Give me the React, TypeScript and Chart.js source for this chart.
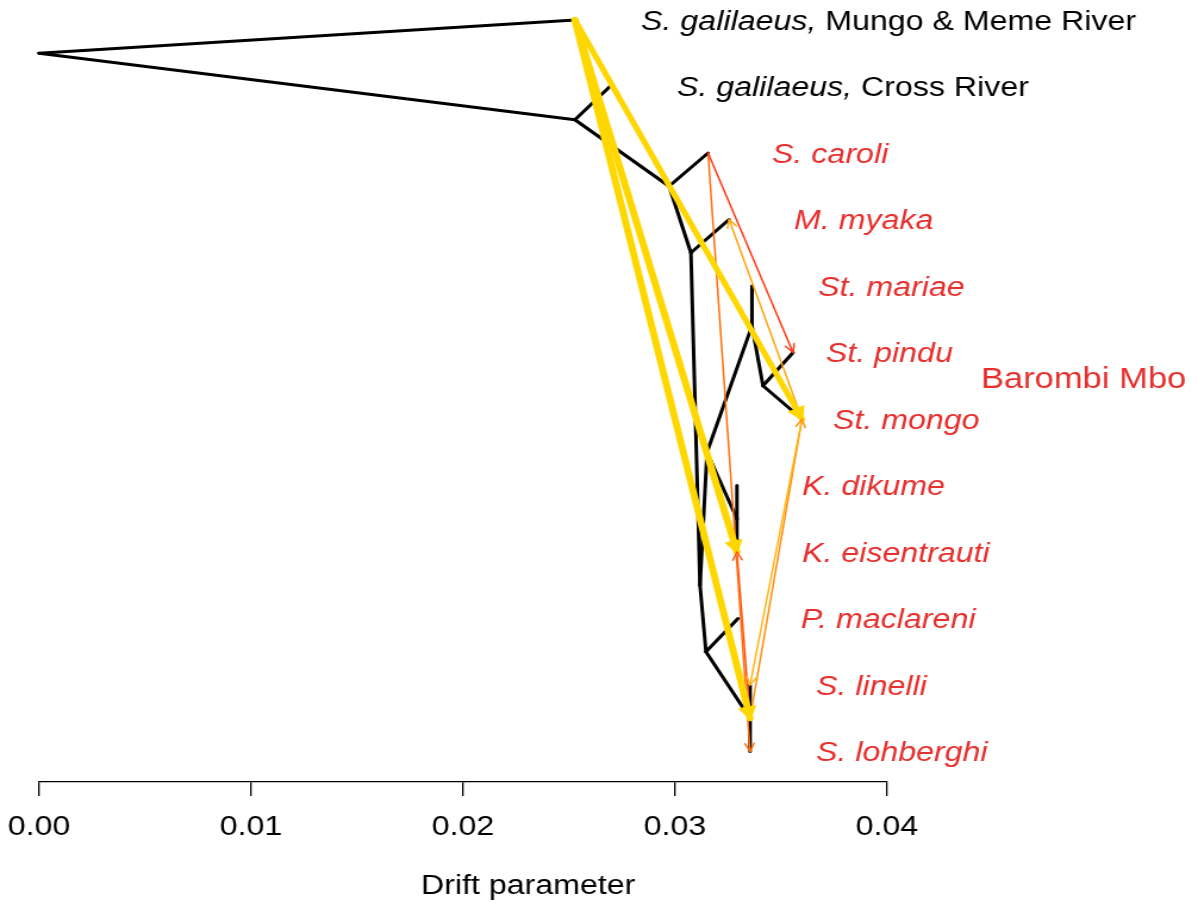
import React, { useEffect, useRef } from "react";
import { Chart, registerables } from "chart.js";

Chart.register(...registerables);

// ---------------- data ----------------
const nodeNames = [
  "root", "galMungo", "B", "galCross", "C", "caroli", "D", "myaka", "M", "I", "G",
  "mariae", "H", "pindu", "mongo", "K", "dikume", "eisentrauti", "J", "maclareni",
  "N", "linelli", "lohberghi",
];
// drift parameter (x) of every node
const nodeDrift = [
  0, 0.02528, 0.02528, 0.02693, 0.02972, 0.03156, 0.03075, 0.03255, 0.03118, 0.03151, 0.03363,
  0.03363, 0.03415, 0.03557, 0.03599, 0.03292, 0.03292, 0.03292, 0.03146, 0.03297,
  0.03354, 0.03354, 0.03354,
];
// vertical order (tip index) of every node
const nodeOrder = [
  0.5, 0, 1.5, 1, 2.5, 2, 3.5, 3, 8.5, 6.5, 4.6,
  4, 5.5, 5, 6, 7.5, 7, 8, 9.5, 9,
  10.5, 10, 11,
];

const treeParents = ["root", "root", "B", "B", "C", "C", "D", "D", "M", "I", "G", "G", "H", "H", "I", "K", "K", "M", "J", "J", "N", "N"];
const treeChildren = ["galMungo", "B", "galCross", "C", "caroli", "D", "myaka", "M", "I", "G", "mariae", "H", "pindu", "mongo", "K", "dikume", "eisentrauti", "J", "maclareni", "N", "linelli", "lohberghi"];

const migFrom = ["galMungo", "galMungo", "galMungo", "caroli", "caroli", "mongo", "mongo", "N", "N"];
const migTo = ["mongo", "eisentrauti", "N", "pindu", "lohberghi", "myaka", "linelli", "mongo", "eisentrauti"];

const tipNodes = ["galMungo", "galCross", "caroli", "myaka", "mariae", "pindu", "mongo", "dikume", "eisentrauti", "maclareni", "linelli", "lohberghi"];
const tipItalic = ["S. galilaeus,", "S. galilaeus,", "S. caroli", "M. myaka", "St. mariae", "St. pindu", "St. mongo", "K. dikume", "K. eisentrauti", "P. maclareni", "S. linelli", "S. lohberghi"];
const tipPlain = [" Mungo & Meme River", " Cross River", "", "", "", "", "", "", "", "", "", ""];
const tipIsLake = [false, false, true, true, true, true, true, true, true, true, true, true];

const groupLabel = "Barombi Mbo";
const axisTicks = [0, 0.01, 0.02, 0.03, 0.04];
const axisTitle = "Drift parameter";

// ---------------- styles ----------------
const CANVAS_W = 1006;
const CANVAS_H = 903;
const STRETCH = 1198 / CANVAS_W;
const FONT = "'Liberation Sans', Arial, Helvetica, sans-serif";
const RED = "#E5302E";
const migColors = ["#FFD700", "#FFD700", "#FFD700", "#FF3A12", "#FF6E0A", "#FFA510", "#FFB30F", "#FF8C0A", "#FF5218"];
const migWidths = [5.2, 6, 6, 1.5, 1.5, 1.5, 1.5, 1.5, 1.5];
const labelGap = [0.00312, 0.00316, 0.00302, 0.00306, 0.00312, 0.00155, 0.00146, 0.00307, 0.00307, 0.00297, 0.00311, 0.00311];
const groupLabelPos = { x: 0.04443, y: 5.38 };
const titlePos = { x: 0.02307, baselinePx: 894 };

const idx = (n: string) => nodeNames.indexOf(n);
const pt = (n: string) => ({ x: nodeDrift[idx(n)], y: nodeOrder[idx(n)] });

const decorPlugin = {
  id: "treeDecor",
  afterDatasetsDraw(chart: any) {
    const { ctx, scales } = chart;
    const xs = scales.x;
    const ys = scales.y;
    ctx.save();
    migFrom.forEach((f, i) => {
      const a = pt(f);
      const b = pt(migTo[i]);
      const x1 = xs.getPixelForValue(a.x);
      const y1 = ys.getPixelForValue(a.y);
      const x2 = xs.getPixelForValue(b.x);
      const y2 = ys.getPixelForValue(b.y);
      const ang = Math.atan2(y2 - y1, x2 - x1);
      const big = migWidths[i] > 2;
      const L = big ? 12 : 9;
      const spread = big ? 0.5 : 0.45;
      ctx.strokeStyle = migColors[i];
      ctx.fillStyle = migColors[i];
      ctx.lineWidth = big ? 2.5 : 1.4;
      ctx.lineCap = "round";
      ctx.beginPath();
      ctx.moveTo(x2 - L * Math.cos(ang - spread), y2 - L * Math.sin(ang - spread));
      ctx.lineTo(x2, y2);
      ctx.lineTo(x2 - L * Math.cos(ang + spread), y2 - L * Math.sin(ang + spread));
      if (big) {
        ctx.closePath();
        ctx.fill();
      }
      ctx.stroke();
    });
    ctx.restore();
  },
  afterDraw(chart: any) {
    const { ctx, scales } = chart;
    const xs = scales.x;
    const ys = scales.y;
    ctx.save();
    ctx.textBaseline = "alphabetic";
    ctx.textAlign = "left";
    const size = 27;
    tipNodes.forEach((n, i) => {
      const p = pt(n);
      let x = xs.getPixelForValue(p.x + labelGap[i]);
      const y = ys.getPixelForValue(p.y) + size * 0.36;
      ctx.fillStyle = tipIsLake[i] ? RED : "#000";
      ctx.font = `italic ${size}px ${FONT}`;
      ctx.fillText(tipItalic[i], x, y);
      x += ctx.measureText(tipItalic[i]).width;
      if (tipPlain[i]) {
        ctx.font = `${size}px ${FONT}`;
        ctx.fillText(tipPlain[i], x, y);
      }
    });
    ctx.fillStyle = RED;
    ctx.font = `29px ${FONT}`;
    ctx.fillText(groupLabel, xs.getPixelForValue(groupLabelPos.x), ys.getPixelForValue(groupLabelPos.y) + 29 * 0.36);
    // axis title (centred on the whole plot region, as in base R)
    ctx.fillStyle = "#000";
    ctx.font = `27px ${FONT}`;
    ctx.textAlign = "center";
    ctx.fillText(axisTitle, xs.getPixelForValue(titlePos.x), titlePos.baselinePx);
    ctx.restore();
  },
};

export default function App() {
  const ref = useRef<HTMLCanvasElement | null>(null);
  useEffect(() => {
    if (!ref.current) return;
    Chart.defaults.font.family = FONT;
    const datasets: any[] = [];
    treeParents.forEach((p, i) => {
      datasets.push({
        data: [pt(p), pt(treeChildren[i])],
        borderColor: "#000",
        borderWidth: 3,
        borderCapStyle: "round",
        showLine: true,
        pointRadius: 0,
        order: 3,
        clip: false,
      });
    });
    migFrom.forEach((f, i) => {
      datasets.push({
        data: [pt(f), pt(migTo[i])],
        borderColor: migColors[i],
        borderWidth: migWidths[i],
        borderCapStyle: "round",
        showLine: true,
        pointRadius: 0,
        order: migWidths[i] > 2 ? 1 : 2,
        clip: false,
      });
    });
    const chart = new Chart(ref.current, {
      type: "scatter",
      data: { datasets },
      options: {
        animation: false,
        responsive: false,
        devicePixelRatio: 1,
        events: [],
        layout: {
          padding: { left: 39 / STRETCH, right: CANVAS_W - 887 / STRETCH, top: 0, bottom: 44.6 },
        },
        plugins: { legend: { display: false }, tooltip: { enabled: false }, title: { display: false } },
        scales: {
          x: {
            type: "linear",
            min: 0,
            max: 0.04,
            afterBuildTicks: (s: any) => {
              s.ticks = axisTicks.map((v) => ({ value: v }));
            },
            afterFit: (s: any) => {
              s.paddingLeft = 0;
              s.paddingRight = 0;
            },
            ticks: {
              callback: (v: any) => Number(v).toFixed(2),
              font: { family: FONT, size: 27 },
              color: "#000",
              padding: 15,
              maxRotation: 0,
              autoSkip: false,
            },
            grid: { display: true, drawOnChartArea: false, drawTicks: true, tickLength: 14, color: "#000", lineWidth: 1.3 },
            border: { display: true, color: "#000", width: 1.3 },
            title: { display: false },
          },
          y: { type: "linear", display: false, reverse: true, min: -20 / 66.5, max: 762 / 66.5 },
        },
      },
      plugins: [decorPlugin],
    });
    return () => chart.destroy();
  }, []);
  return (
    <div style={{ position: "fixed", left: 0, top: 0, width: 1198, height: 903, background: "#fff" }}>
      <canvas ref={ref} width={CANVAS_W} height={CANVAS_H} style={{ width: "1198px", height: "903px", display: "block" }} />
    </div>
  );
}
